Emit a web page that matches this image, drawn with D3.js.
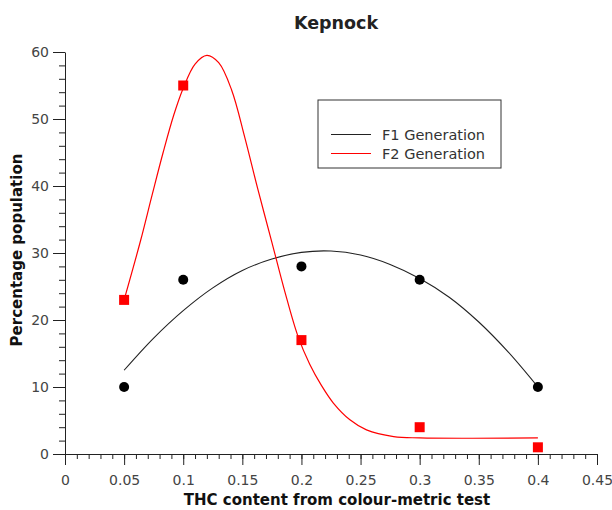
<!DOCTYPE html>
<html>
<head>
<meta charset="utf-8">
<script src="https://cdn.jsdelivr.net/npm/d3@7"></script>
<style>
  body { margin: 0; background: #fff; }
  text { font-family: "DejaVu Sans", sans-serif; }
</style>
</head>
<body>
<div id="main"></div>
<script>
// measured points
const thc = [0.05, 0.1, 0.2, 0.3, 0.4];
const f1 = [10, 26, 28, 26, 10];
const f2 = [23, 55, 17, 4, 1];

// fitted curves
const f1FitX = [0.05, 0.075, 0.1, 0.125, 0.15, 0.175, 0.2, 0.225, 0.25, 0.275, 0.3, 0.325, 0.35, 0.375, 0.4];
const f1FitY = [12.5, 17.3, 21.4, 24.8, 27.4, 29.1, 30.1, 30.3, 29.7, 28.3, 26.2, 23.4, 19.7, 15.2, 10];
const f2FitX = [0.05, 0.064, 0.0736, 0.083, 0.092, 0.1, 0.11, 0.12, 0.13, 0.141, 0.152, 0.163, 0.175, 0.186, 0.197, 0.207, 0.217, 0.227, 0.241, 0.255, 0.278, 0.3, 0.4];
const f2FitY = [23, 31.9, 38.6, 45.0, 50.6, 54.6, 58.2, 59.5, 58.4, 54.3, 47.3, 39.6, 31.6, 24.2, 17.6, 13.4, 10.2, 7.6, 5.1, 3.6, 2.6, 2.4, 2.4];

const xTicks = [0, 0.05, 0.1, 0.15, 0.2, 0.25, 0.3, 0.35, 0.4, 0.45];
const yTicks = [0, 10, 20, 30, 40, 50, 60];
const legendLabels = ["F1 Generation", "F2 Generation"];
const colors = ["#000", "#ff0000"];

const width = 612, height = 510;
const mLeft = 65, mRight = 597, mTop = 52, mBottom = 454;

const svg = d3.select('#main').append('svg')
  .attr('width', width).attr('height', height);

const xScale = d3.scaleLinear().domain([0, 0.45]).range([mLeft, mRight]);
const yScale = d3.scaleLinear().domain([0, 60]).range([mBottom, mTop]);

//minor ticks
svg.append('g')
  .attr('transform', 'translate(0,' + mBottom + ')')
  .call(d3.axisBottom(xScale).tickValues(d3.range(0, 0.4501, 0.01)).tickSize(5).tickFormat(''))
  .call(g => g.select('.domain').remove())
  .call(g => g.selectAll('line').attr('stroke', '#222'));
svg.append('g')
  .attr('transform', 'translate(' + mLeft + ',0)')
  .call(d3.axisLeft(yScale).tickValues(d3.range(0, 60.1, 2)).tickSize(6).tickFormat(''))
  .call(g => g.select('.domain').remove())
  .call(g => g.selectAll('line').attr('stroke', '#222'));

//major axes
const xAxis = svg.append('g')
  .attr('transform', 'translate(0,' + mBottom + ')')
  .call(d3.axisBottom(xScale).tickValues(xTicks).tickSize(11).tickSizeOuter(0).tickPadding(10)
    .tickFormat(d => d === 0 ? '0' : String(+d.toFixed(2))));
const yAxis = svg.append('g')
  .attr('transform', 'translate(' + mLeft + ',0)')
  .call(d3.axisLeft(yScale).tickValues(yTicks).tickSize(12).tickSizeOuter(0).tickPadding(4));

[xAxis, yAxis].forEach(g => {
  g.selectAll('text').style('font-size', '14px').style('font-family', '"DejaVu Sans", sans-serif').attr('fill', '#444');
  g.selectAll('line').attr('stroke', '#222');
  g.select('.domain').attr('stroke', '#222');
});

//titles
svg.append('text').attr('x', 336).attr('y', 29)
  .attr('text-anchor', 'middle').style('font-size', '17.5px').style('font-weight', 'bold')
  .attr('fill', '#222').text('Kepnock');
svg.append('text').attr('x', 337).attr('y', 505)
  .attr('text-anchor', 'middle').style('font-size', '15px').style('font-weight', 'bold')
  .attr('fill', '#111').text('THC content from colour-metric test');
svg.append('text').attr('transform', 'translate(22,250) rotate(-90)')
  .attr('text-anchor', 'middle').style('font-size', '15px').style('font-weight', 'bold')
  .attr('fill', '#111').text('Percentage population');

//fit lines
const line = d3.line().x(d => xScale(d[0])).y(d => yScale(d[1])).curve(d3.curveCatmullRom.alpha(0.5));
svg.append('path').datum(f1FitX.map((x, i) => [x, f1FitY[i]]))
  .attr('d', line).attr('fill', 'none').attr('stroke', '#222').attr('stroke-width', 1.1);
svg.append('path').datum(f2FitX.map((x, i) => [x, f2FitY[i]]))
  .attr('d', line).attr('fill', 'none').attr('stroke', colors[1]).attr('stroke-width', 1.2);

//points
svg.selectAll('.dot').data(thc.map((x, i) => [x, f1[i]])).enter()
  .append('circle').attr('class', 'dot')
  .attr('cx', d => xScale(d[0])).attr('cy', d => yScale(d[1]))
  .attr('r', 5).attr('fill', '#000');
svg.selectAll('.sq').data(thc.map((x, i) => [x, f2[i]])).enter()
  .append('rect').attr('class', 'sq')
  .attr('x', d => xScale(d[0]) - 5).attr('y', d => yScale(d[1]) - 5)
  .attr('width', 10).attr('height', 10).attr('fill', colors[1]);

//legend
const legend = svg.append('g').attr('transform', 'translate(318,100)');
legend.append('rect').attr('width', 183).attr('height', 68)
  .attr('fill', '#fff').attr('stroke', '#333');
legendLabels.forEach((lab, i) => {
  const y = 34.5 + i * 19;
  legend.append('line').attr('x1', 13).attr('x2', 53).attr('y1', y).attr('y2', y)
    .attr('stroke', i === 0 ? '#222' : colors[1]);
  legend.append('text').attr('x', 64).attr('y', y + 5)
    .style('font-size', '14.5px').attr('fill', '#333').text(lab);
});
</script>
</body>
</html>
